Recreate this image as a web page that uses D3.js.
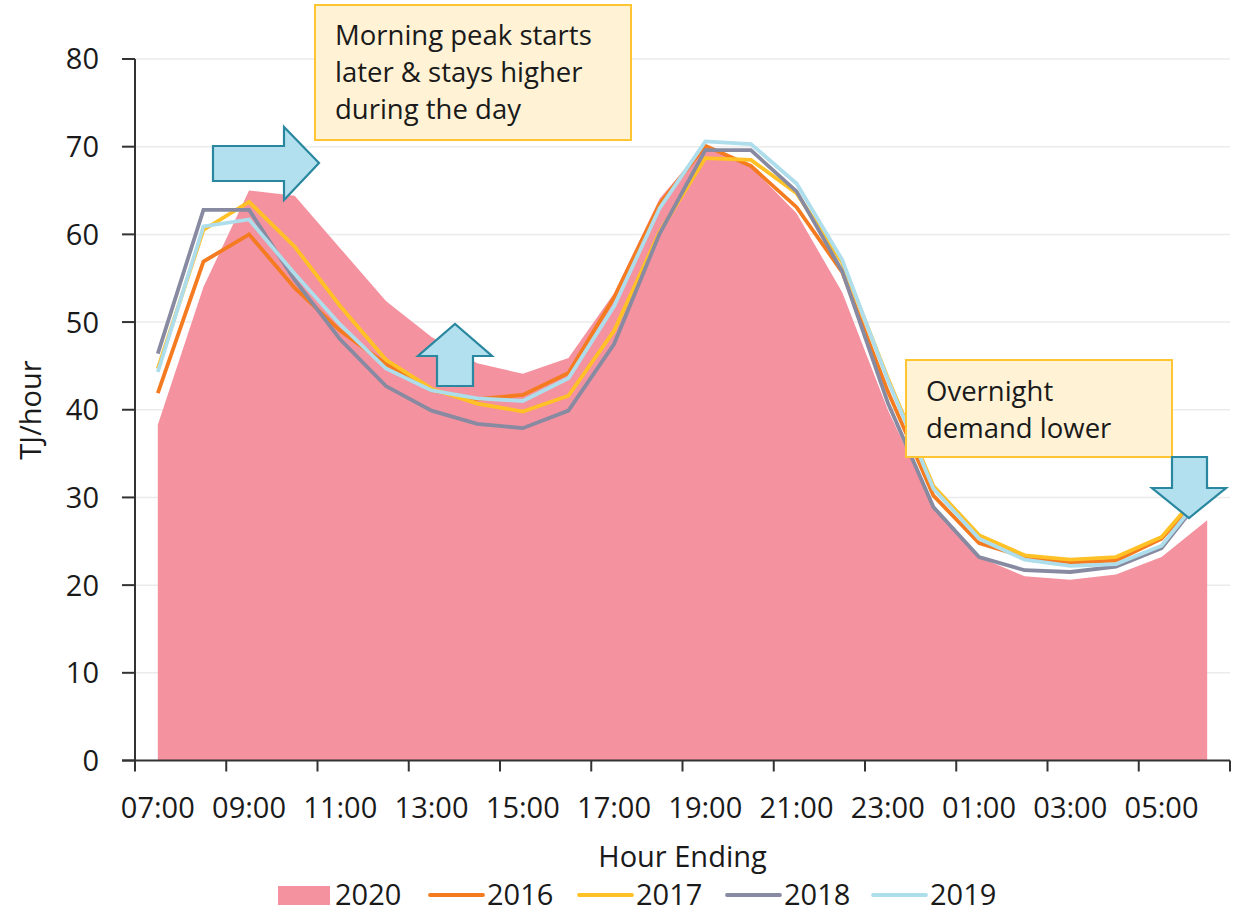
<!DOCTYPE html>
<html>
<head>
<meta charset="utf-8">
<script src="https://cdn.jsdelivr.net/npm/d3@7"></script>
<style>
  html, body { margin: 0; padding: 0; background: #fff; }
  svg { display: block; }
  text { font-family: "Open Sans", "Noto Sans", sans-serif; fill: #1a1a1a; }
</style>
</head>
<body>
<svg id="chart" width="1233" height="913"></svg>
<script>
// ---------- data ----------
const hours = ["07:00","08:00","09:00","10:00","11:00","12:00","13:00","14:00","15:00","16:00","17:00","18:00",
               "19:00","20:00","21:00","22:00","23:00","00:00","01:00","02:00","03:00","04:00","05:00","06:00"];
const tickLabels = ["07:00","09:00","11:00","13:00","15:00","17:00","19:00","21:00","23:00","01:00","03:00","05:00"];
const yTicks = [0,10,20,30,40,50,60,70,80];

const y2020 = [38.3,54.0,65.0,64.4,58.4,52.4,48.3,45.3,44.1,45.9,53.3,64.1,70.2,67.7,62.4,53.4,40.0,28.9,23.2,21.0,20.6,21.2,23.2,27.4];
const y2016 = [41.9,56.9,60.0,53.9,49.0,45.2,42.2,41.2,41.7,44.2,52.8,63.5,70.1,67.8,63.1,55.7,42.1,30.2,24.8,23.2,22.6,22.8,25.3,31.0];
const y2017 = [44.7,60.5,63.7,58.6,51.8,45.7,42.4,40.7,39.8,41.6,49.0,60.3,68.7,68.5,64.7,56.8,43.6,31.3,25.7,23.4,22.9,23.2,25.5,31.5];
const y2018 = [46.4,62.8,62.8,54.8,48.0,42.7,39.9,38.4,37.9,39.9,47.5,60.1,69.6,69.6,64.9,55.8,40.8,28.9,23.2,21.7,21.5,22.1,24.2,30.8];
const y2019 = [44.3,60.9,61.7,55.5,49.7,44.7,42.2,41.3,41.0,43.6,51.8,63.0,70.6,70.3,65.8,57.1,43.4,31.0,25.3,22.9,22.2,22.4,24.5,31.0];

const lineSeries = [
  {name:"2016", values:y2016, color:"#F47B20"},
  {name:"2017", values:y2017, color:"#FFC125"},
  {name:"2018", values:y2018, color:"#878AA0"},
  {name:"2019", values:y2019, color:"#AEDDEB"}
];
const areaColor = "#F4929F";

// ---------- layout ----------
const svg = d3.select("#chart");
const plotLeft = 135, plotRight = 1230, plotTop = 59, plotBottom = 760.5;

const x = d3.scaleBand().domain(hours).range([plotLeft, plotRight]).padding(0);
const cx = h => x(h) + x.bandwidth() / 2;
const y = d3.scaleLinear().domain([0, 80]).range([plotBottom, plotTop]);

// gridlines
svg.append("g").selectAll("line").data(yTicks.filter(d => d > 0)).join("line")
  .attr("x1", plotLeft).attr("x2", plotRight)
  .attr("y1", d => y(d)).attr("y2", d => y(d))
  .attr("stroke", "#EBEBEB").attr("stroke-width", 1.5);

// area 2020
const area = d3.area()
  .x((d, i) => cx(hours[i]))
  .y0(y(0))
  .y1(d => y(d));
svg.append("path").datum(y2020)
  .attr("d", area)
  .attr("fill", areaColor);

// lines
const line = d3.line()
  .x((d, i) => cx(hours[i]))
  .y(d => y(d));
svg.append("g").selectAll("path").data(lineSeries).join("path")
  .attr("d", s => line(s.values))
  .attr("fill", "none")
  .attr("stroke", s => s.color)
  .attr("stroke-width", 3.8)
  .attr("stroke-linejoin", "miter");

// y axis
const axisColor = "#333";
svg.append("line").attr("x1", plotLeft).attr("x2", plotLeft).attr("y1", y(80)).attr("y2", y(0))
  .attr("stroke", axisColor).attr("stroke-width", 2);
svg.append("g").selectAll("line").data(yTicks).join("line")
  .attr("x1", plotLeft - 13).attr("x2", plotLeft)
  .attr("y1", d => y(d)).attr("y2", d => y(d))
  .attr("stroke", axisColor).attr("stroke-width", 2);
svg.append("g").selectAll("text").data(yTicks).join("text")
  .attr("x", 99).attr("y", d => y(d))
  .attr("dy", "0.36em")
  .attr("text-anchor", "end")
  .attr("font-size", 29)
  .text(d => d);

// x axis
svg.append("line").attr("x1", plotLeft - 13).attr("x2", plotRight).attr("y1", y(0)).attr("y2", y(0))
  .attr("stroke", axisColor).attr("stroke-width", 2);
const tickIdx = d3.range(0, hours.length + 1, 2);
svg.append("g").selectAll("line").data(tickIdx).join("line")
  .attr("x1", i => plotLeft + i * x.step()).attr("x2", i => plotLeft + i * x.step())
  .attr("y1", y(0)).attr("y2", y(0) + 11)
  .attr("stroke", axisColor).attr("stroke-width", 2);
svg.append("g").selectAll("text").data(tickLabels).join("text")
  .attr("x", d => cx(d))
  .attr("y", 818)
  .attr("text-anchor", "middle")
  .attr("font-size", 29)
  .text(d => d);

// axis titles
svg.append("text").attr("x", (plotLeft + plotRight) / 2).attr("y", 867)
  .attr("text-anchor", "middle").attr("font-size", 29).text("Hour Ending");
svg.append("text").attr("transform", "translate(41,410) rotate(-90)")
  .attr("text-anchor", "middle").attr("font-size", 29).text("TJ/hour");

// legend
const legendItems = [{name:"2020", color:areaColor, type:"area"}].concat(lineSeries.map(s => ({name:s.name, color:s.color, type:"line"})));
const legendX = [278, 430, 579, 727, 873];
const lg = svg.append("g").selectAll("g").data(legendItems).join("g")
  .attr("transform", (d, i) => `translate(${legendX[i]},895)`);
lg.filter(d => d.type === "area").append("rect")
  .attr("x", 0).attr("y", -9).attr("width", 52).attr("height", 19).attr("fill", d => d.color);
lg.filter(d => d.type === "line").append("line")
  .attr("x1", 0).attr("x2", 53).attr("y1", 0).attr("y2", 0)
  .attr("stroke", d => d.color).attr("stroke-width", 3.8).attr("stroke-linecap", "round");
lg.append("text").attr("x", 57).attr("y", 10)
  .attr("font-size", 29).text(d => d.name);

// annotation boxes
const boxes = [
  {x:315, y:5, w:316, h:135, tx:335, ty:[45, 82, 119], lines:["Morning peak starts","later & stays higher","during the day"]},
  {x:906, y:360, w:266, h:97, tx:926, ty:[401, 438], lines:["Overnight","demand lower"]}
];
const bg = svg.append("g").selectAll("g").data(boxes).join("g");
bg.append("rect").attr("x", d => d.x).attr("y", d => d.y).attr("width", d => d.w).attr("height", d => d.h)
  .attr("fill", "#FFF2D5").attr("stroke", "#FFC533").attr("stroke-width", 2);
bg.each(function(d) {
  const g = d3.select(this);
  d.lines.forEach((t, i) => {
    g.append("text").attr("x", d.tx).attr("y", d.ty[i]).attr("font-size", 27.5).text(t);
  });
});

// annotation arrows
const arrowFill = "#B3E0EE", arrowStroke = "#2A87A0";
const arrows = [
  [[213,146],[284,146],[284,127],[319,163],[284,200],[284,181],[213,181]],
  [[437,386],[437,356],[418,356],[455,324],[492,356],[473,356],[473,386]],
  [[1172,457],[1207,457],[1207,488],[1226,488],[1189,518],[1152,488],[1172,488]]
];
svg.append("g").selectAll("path").data(arrows).join("path")
  .attr("d", d => d3.line()(d) + "Z")
  .attr("fill", arrowFill).attr("stroke", arrowStroke).attr("stroke-width", 2.2)
  .attr("stroke-linejoin", "miter");
</script>
</body>
</html>
